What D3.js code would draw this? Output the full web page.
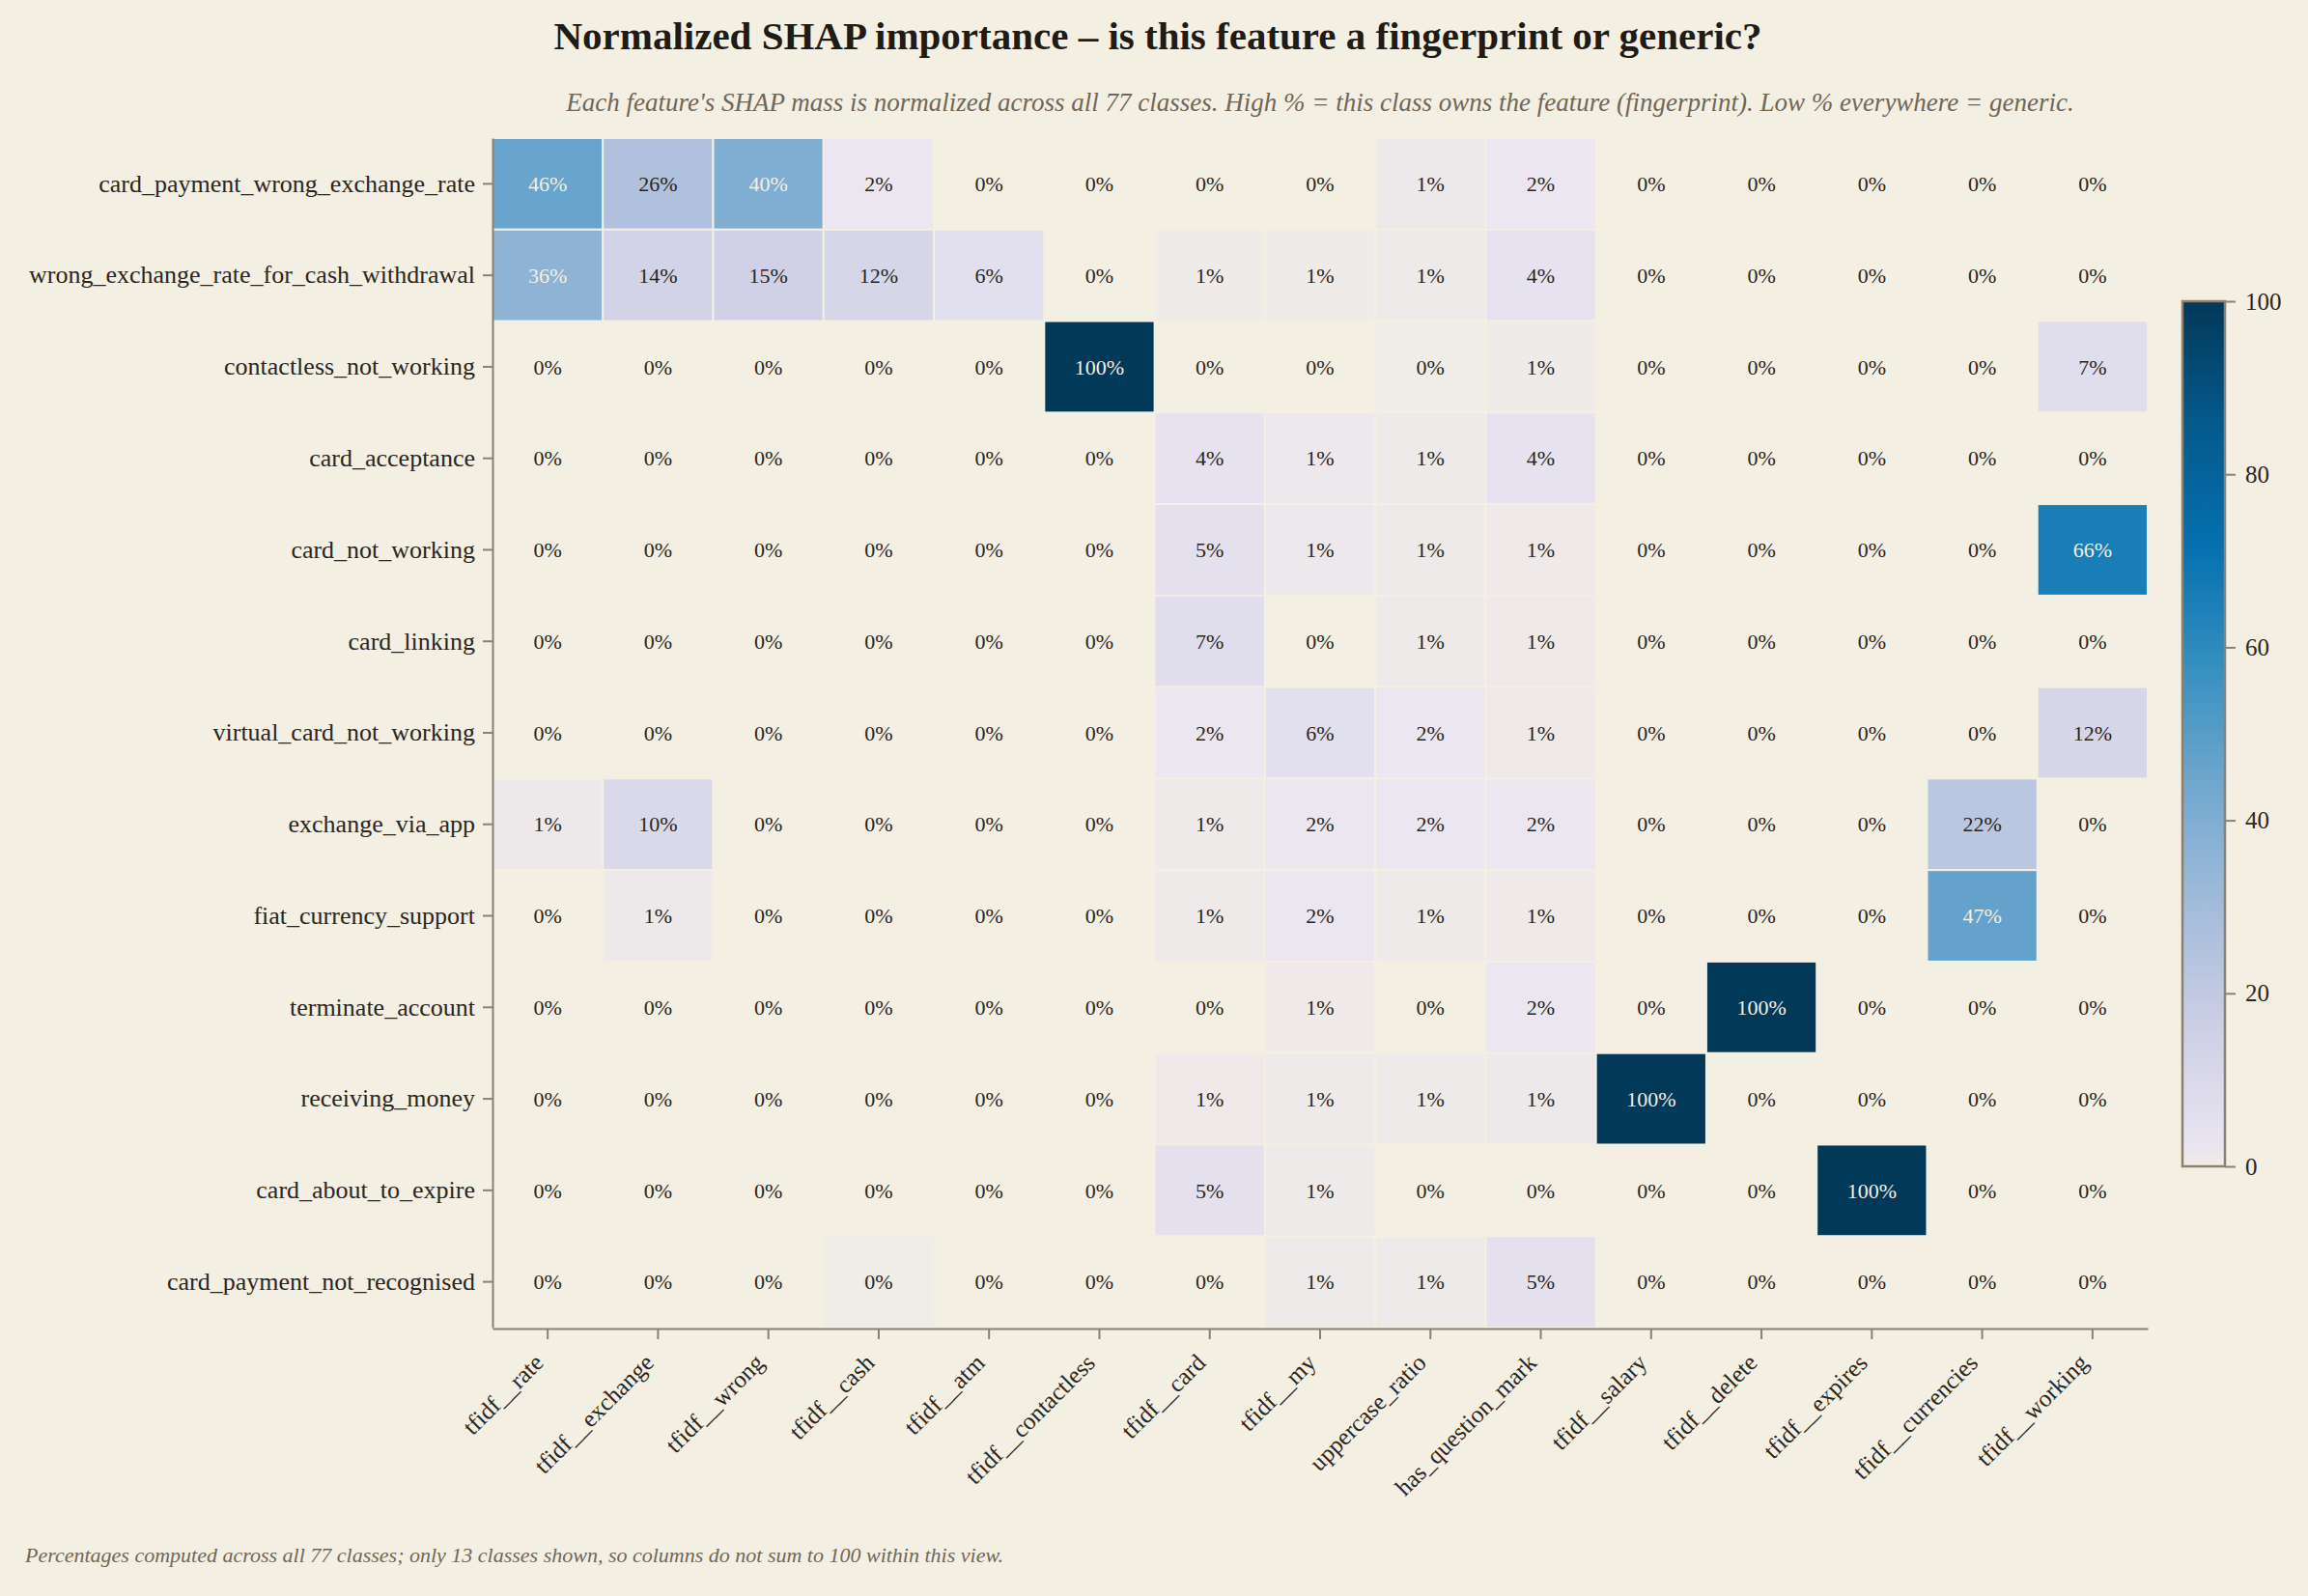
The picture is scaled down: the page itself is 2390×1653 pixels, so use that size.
<!DOCTYPE html>
<html lang="en">
  <head>
    <meta charset="utf-8">
    <title>Normalized SHAP importance</title>
    <script type="text/javascript" src="https://cdn.jsdelivr.net/npm/d3@7"></script>
    <style>
    body{
      margin:0;
      padding:0;
      background:#f3efe3;
    }
    svg{
      display:block;
      font-family:"Liberation Serif","DejaVu Serif",serif;
    }
    .axis path,.axis line{
      stroke:#8c8170;
      stroke-width:2;
    }
    .axis text{
      fill:#2b2620;
    }
    </style>
  </head>
  <body>
    <div id="chart"></div>

    <script type="text/javascript">

      var classes = [
        "card_payment_wrong_exchange_rate",
        "wrong_exchange_rate_for_cash_withdrawal",
        "contactless_not_working",
        "card_acceptance",
        "card_not_working",
        "card_linking",
        "virtual_card_not_working",
        "exchange_via_app",
        "fiat_currency_support",
        "terminate_account",
        "receiving_money",
        "card_about_to_expire",
        "card_payment_not_recognised"
      ]

      var features = [
        "tfidf__rate","tfidf__exchange","tfidf__wrong","tfidf__cash","tfidf__atm",
        "tfidf__contactless","tfidf__card","tfidf__my","uppercase_ratio","has_question_mark",
        "tfidf__salary","tfidf__delete","tfidf__expires","tfidf__currencies","tfidf__working"
      ]

      // percent of each feature's SHAP mass held by the class (rows follow classes)
      var shapPct = [
        [46, 26, 40, 2, 0, 0, 0, 0, 1.2, 2, 0, 0, 0, 0, 0],
        [36, 14, 15, 12, 6, 0, 0.6, 0.6, 0.8, 4, 0, 0, 0, 0, 0],
        [0, 0, 0, 0, 0, 100, 0, 0, 0.3, 0.6, 0, 0, 0, 0, 7],
        [0, 0, 0, 0, 0, 0, 4, 1.3, 0.8, 4, 0, 0, 0, 0, 0],
        [0, 0, 0, 0, 0, 0, 5, 1.3, 0.8, 0.7, 0, 0, 0, 0, 66],
        [0, 0, 0, 0, 0, 0, 7, 0, 0.8, 0.7, 0, 0, 0, 0, 0],
        [0, 0, 0, 0, 0, 0, 2, 6, 2, 0.7, 0, 0, 0, 0, 12],
        [1.2, 10, 0, 0, 0, 0, 0.8, 2, 2, 2, 0, 0, 0, 22, 0],
        [0, 1.2, 0, 0, 0, 0, 0.8, 2, 0.8, 0.7, 0, 0, 0, 47, 0],
        [0, 0, 0, 0, 0, 0, 0, 0.7, 0, 2, 0, 100, 0, 0, 0],
        [0, 0, 0, 0, 0, 0, 0.7, 0.8, 0.8, 1.2, 100, 0, 0, 0, 0],
        [0, 0, 0, 0, 0, 0, 5, 0.8, 0, 0, 0, 0, 100, 0, 0],
        [0, 0, 0, 0.3, 0, 0, 0, 0.8, 0.8, 5, 0, 0, 0, 0, 0]
      ]

      var cbarTicks = [0, 20, 40, 60, 80, 100]

      var titleText = "Normalized SHAP importance \u2013 is this feature a fingerprint or generic?"
      var subText = "Each feature's SHAP mass is normalized across all 77 classes. High % = this class owns the feature (fingerprint). Low % everywhere = generic."
      var footText = "Percentages computed across all 77 classes; only 13 classes shown, so columns do not sum to 100 within this view."

      var W = 2390, H = 1653
      var bg = "#f3efe3"
      var axisCol = "#8c8170"

      // PuBu, linear between the brewer stops, with the low end faded into the paper colour
      var puBu = d3.scaleLinear()
        .domain([0, 0.125, 0.25, 0.375, 0.5, 0.625, 0.75, 0.875, 1])
        .range(["#fff7fb","#ece7f2","#d0d1e6","#a6bddb","#74a9cf","#3690c0","#0570b0","#045a8d","#023858"])
      var tScale = d3.scaleLinear().domain([2.5, 100]).range([0.14, 1])
      function colorOf(v){
        if(v < 2.5){
          return d3.interpolateRgb("#f1ede6", puBu(0.14))(v/2.5)
        }
        return puBu(tScale(v))
      }

      var svg = d3.select("#chart").append("svg")
        .attr("width", W).attr("height", H)

      svg.append("rect").attr("width", W).attr("height", H).attr("fill", bg)

      var x = d3.scaleBand().domain(features).range([510, 2224])
      var y = d3.scaleBand().domain(classes).range([143, 1375])

      var cells = []
      shapPct.forEach(function(row, i){
        row.forEach(function(v, j){
          cells.push({cls: classes[i], feat: features[j], v: v})
        })
      })

      svg.selectAll(".cell")
        .data(cells.filter(function(d){ return d.v > 0 }))
        .enter()
        .append("rect")
        .attr("class", "cell")
        .attr("x", function(d){ return x(d.feat) })
        .attr("y", function(d){ return y(d.cls) })
        .attr("width", x.bandwidth())
        .attr("height", y.bandwidth())
        .attr("fill", function(d){ return colorOf(d.v) })
        .attr("stroke", bg)
        .attr("stroke-width", 2)

      svg.selectAll(".cellLabel")
        .data(cells)
        .enter()
        .append("text")
        .attr("class", "cellLabel")
        .attr("x", function(d){ return x(d.feat) + x.bandwidth()/2 })
        .attr("y", function(d){ return y(d.cls) + y.bandwidth()/2 })
        .attr("dy", "0.35em")
        .attr("text-anchor", "middle")
        .attr("font-size", 22)
        .attr("fill", function(d){ return d.v > 30 ? "#f3efe3" : "#2b2620" })
        .text(function(d){ return Math.round(d.v) + "%" })

      // axes
      var yAxis = svg.append("g")
        .attr("class", "axis")
        .attr("transform", "translate(510,0)")
        .call(d3.axisLeft(y).tickSize(10).tickSizeOuter(0).tickPadding(8))
      yAxis.selectAll("text").attr("font-size", 26).attr("font-family", "Liberation Serif")

      var xAxis = svg.append("g")
        .attr("class", "axis")
        .attr("transform", "translate(0,1376)")
        .call(d3.axisBottom(x).tickSize(11).tickSizeOuter(0))
      xAxis.selectAll("text")
        .attr("font-size", 25)
        .attr("font-family", "Liberation Serif")
        .attr("text-anchor", "end")
        .attr("x", 0).attr("y", 0).attr("dy", 0)
        .attr("transform", "translate(-3,37) rotate(-45)")

      // colorbar
      var cTop = 312, cBot = 1208, cLeft = 2260, cW = 44
      var cScale = d3.scaleLinear().domain([0, 100]).range([cBot, cTop])

      var grad = svg.append("defs").append("linearGradient")
        .attr("id", "cgrad")
        .attr("x1", 0).attr("y1", 1).attr("x2", 0).attr("y2", 0)
      grad.selectAll("stop")
        .data(d3.range(0, 101, 1))
        .enter()
        .append("stop")
        .attr("offset", function(d){ return d + "%" })
        .attr("stop-color", function(d){ return colorOf(d) })

      svg.append("rect")
        .attr("x", cLeft).attr("y", cTop)
        .attr("width", cW).attr("height", cBot - cTop)
        .attr("fill", "url(#cgrad)")
        .attr("stroke", axisCol)
        .attr("stroke-width", 2.5)

      var cAxis = svg.append("g")
        .attr("class", "axis")
        .attr("transform", "translate(" + (cLeft + cW) + ",0)")
        .call(d3.axisRight(cScale).tickValues(cbarTicks).tickSize(11).tickPadding(10))
      cAxis.select(".domain").remove()
      cAxis.selectAll("text").attr("font-size", 25).attr("font-family", "Liberation Serif")

      // titles
      svg.append("text")
        .attr("x", 1199).attr("y", 51)
        .attr("text-anchor", "middle")
        .attr("font-size", 41)
        .attr("font-weight", "bold")
        .attr("fill", "#1f1b16")
        .text(titleText)

      svg.append("text")
        .attr("x", 1367).attr("y", 115)
        .attr("text-anchor", "middle")
        .attr("font-size", 27)
        .attr("font-style", "italic")
        .attr("fill", "#716757")
        .text(subText)

      svg.append("text")
        .attr("x", 26).attr("y", 1618)
        .attr("font-size", 22)
        .attr("font-style", "italic")
        .attr("fill", "#716757")
        .text(footText)

    </script>
  </body>
</html>
